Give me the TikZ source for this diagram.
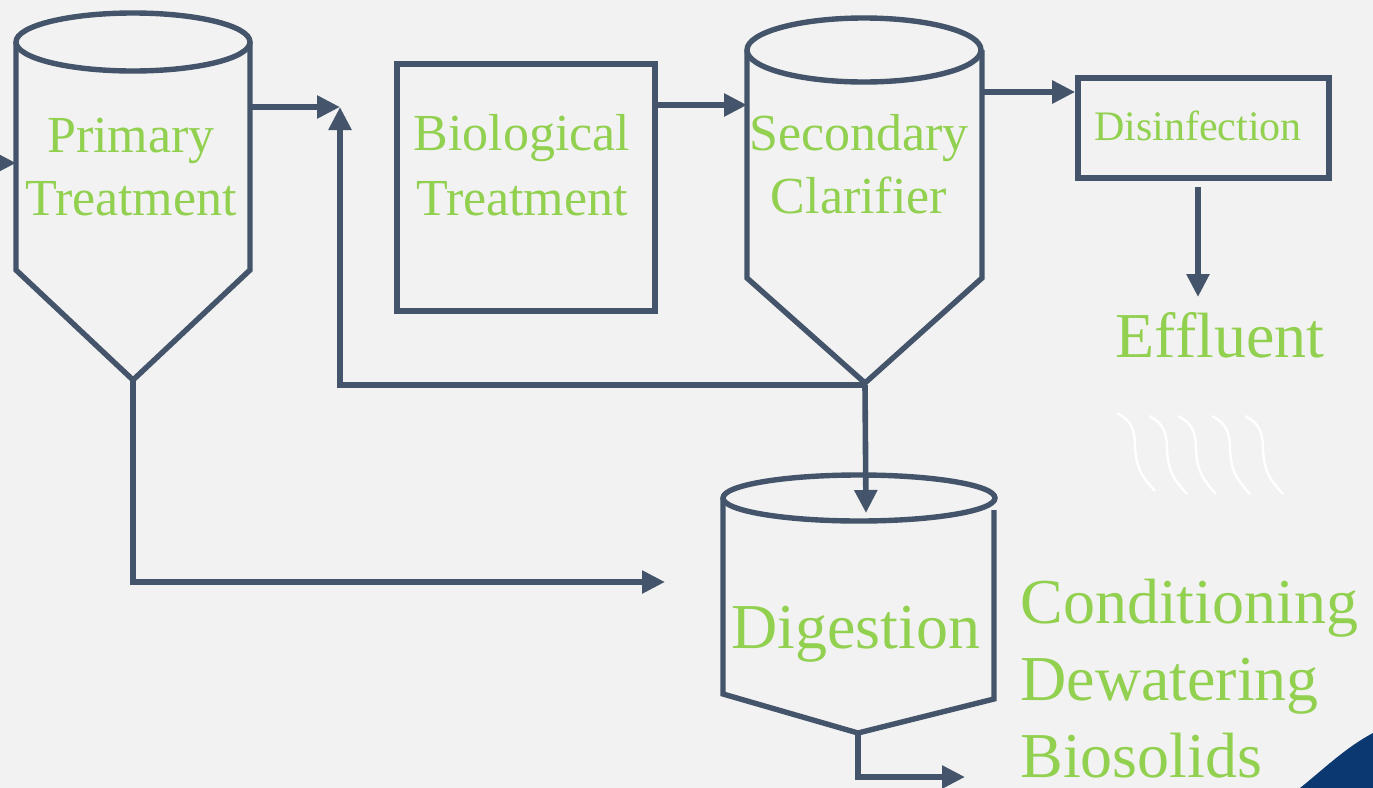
\documentclass[tikz,border=0pt]{standalone}
\usepackage{fontspec}
\setmainfont{Liberation Serif}
\usetikzlibrary{arrows.meta}
\definecolor{bgc}{HTML}{F2F2F2}
\definecolor{linec}{HTML}{44546A}
\definecolor{txtc}{HTML}{92D050}
\definecolor{navy}{RGB}{12,56,114}
\tikzset{
  pipe/.style={draw=linec,line width=2.8pt},
  flow/.style={pipe,-{Triangle[length=11.5pt,width=11pt]}},
  tank/.style={draw=linec,line width=2.7pt,line join=miter},
  boxnode/.style={draw=linec,line width=2.8pt,inner sep=0pt},
  lbl/.style={text=txtc,inner sep=0pt,align=center,anchor=base},
}
\begin{document}
\begin{tikzpicture}[x=0.5pt,y=-0.5pt]
\useasboundingbox (0,0) rectangle (1373,788);
\fill[bgc] (0,0) rectangle (1373,788);

% decorative navy corner
\fill[navy] (1300,788) .. controls (1325,768) and (1345,748) .. (1373,733) -- (1373,788) -- cycle;

% white wavy lines
\foreach \sx/\sy in {1117/413,1149/416,1178/416,1212/416,1245/416}{
  \draw[white,line width=1.2pt] (\sx,\sy) .. controls (\sx+12,\sy+6) and (\sx+18,\sy+14) .. (\sx+18,\sy+33)
     .. controls (\sx+19,\sy+50) and (\sx+21,\sy+60) .. (\sx+38,\sy+78);
}

% Primary tank
\draw[tank] (133,42) ellipse [x radius=117, y radius=29];
\draw[tank] (16,42) -- (16,270) -- (133,380) -- (250,270) -- (250,42);
\coordinate (pt-in) at (16,163);
\coordinate (pt-out) at (250,107);
\coordinate (pt-apex) at (133,380);
\node[lbl,font=\fontsize{26pt}{31.5pt}\selectfont] (ptlbl) at (131,215) {Primary\\Treatment};

% Biological box
\node[boxnode,minimum width=129pt,minimum height=123.5pt] (bio) at (526,187.5) {};
\node[lbl,font=\fontsize{26pt}{32.5pt}\selectfont] (biolbl) at (522,215) {Biological\\Treatment};

% Secondary clarifier
\draw[tank] (864,50) ellipse [x radius=117, y radius=32];
\draw[tank] (747,50) -- (747,278) -- (865,383) -- (982,278) -- (982,50);
\coordinate (sc-in) at (747,105);
\coordinate (sc-out) at (982,92);
\coordinate (sc-apex) at (865,385);
\node[lbl,font=\fontsize{26pt}{31.5pt}\selectfont] (sclbl) at (859,213) {Secondary\\Clarifier};

% Disinfection
\node[boxnode,minimum width=125.5pt,minimum height=50pt] (dis) at (1203.5,128) {};
\node[lbl,font=\fontsize{21pt}{25pt}\selectfont] (dislbl) at (1198,140) {Disinfection};
\node[lbl,font=\fontsize{32pt}{38pt}\selectfont] (eff) at (1220,357) {Effluent};

% Digestion tank
\draw[tank] (859,498) ellipse [x radius=136, y radius=23];
\draw[tank] (723,498) -- (723,694) -- (858,733) -- (994,699) -- (994,510);
\coordinate (dg-top) at (866,513);
\coordinate (dg-in) at (665,582);
\coordinate (dg-apex) at (858,733);
\node[lbl,font=\fontsize{32pt}{38pt}\selectfont] (dglbl) at (856,648) {Digestion};

\node[lbl,align=left,anchor=base west,font=\fontsize{32pt}{38.5pt}\selectfont] (cond) at (1020,777) {Conditioning\\Dewatering\\Biosolids};

% helper coordinates
\coordinate (src) at (-20,163);
\coordinate (junc) at (340,107);
\coordinate (ret) at (340,385);
\coordinate (pbend) at (133,582);
\coordinate (dbend) at (858,777);
\coordinate (out) at (965,777);
\coordinate (dis-bot) at (1198,187);
\coordinate (eff-top) at (1198,297);

% connectors
\draw[flow] (src) -- (pt-in);
\draw[flow] (pt-out) -- (junc);
\draw[flow] (sc-apex) -- (ret) -- (junc);
\draw[flow] (pt-apex) -- (pbend) -- (dg-in);
\draw[flow] (bio.east |- sc-in) -- (sc-in);
\draw[flow] (sc-out) -- (dis.west |- sc-out);
\draw[flow] (sc-apex) -- (dg-top);
\draw[flow] (dis-bot) -- (eff-top);
\draw[flow] (dg-apex) -- (dbend) -- (out);
\end{tikzpicture}
\end{document}
